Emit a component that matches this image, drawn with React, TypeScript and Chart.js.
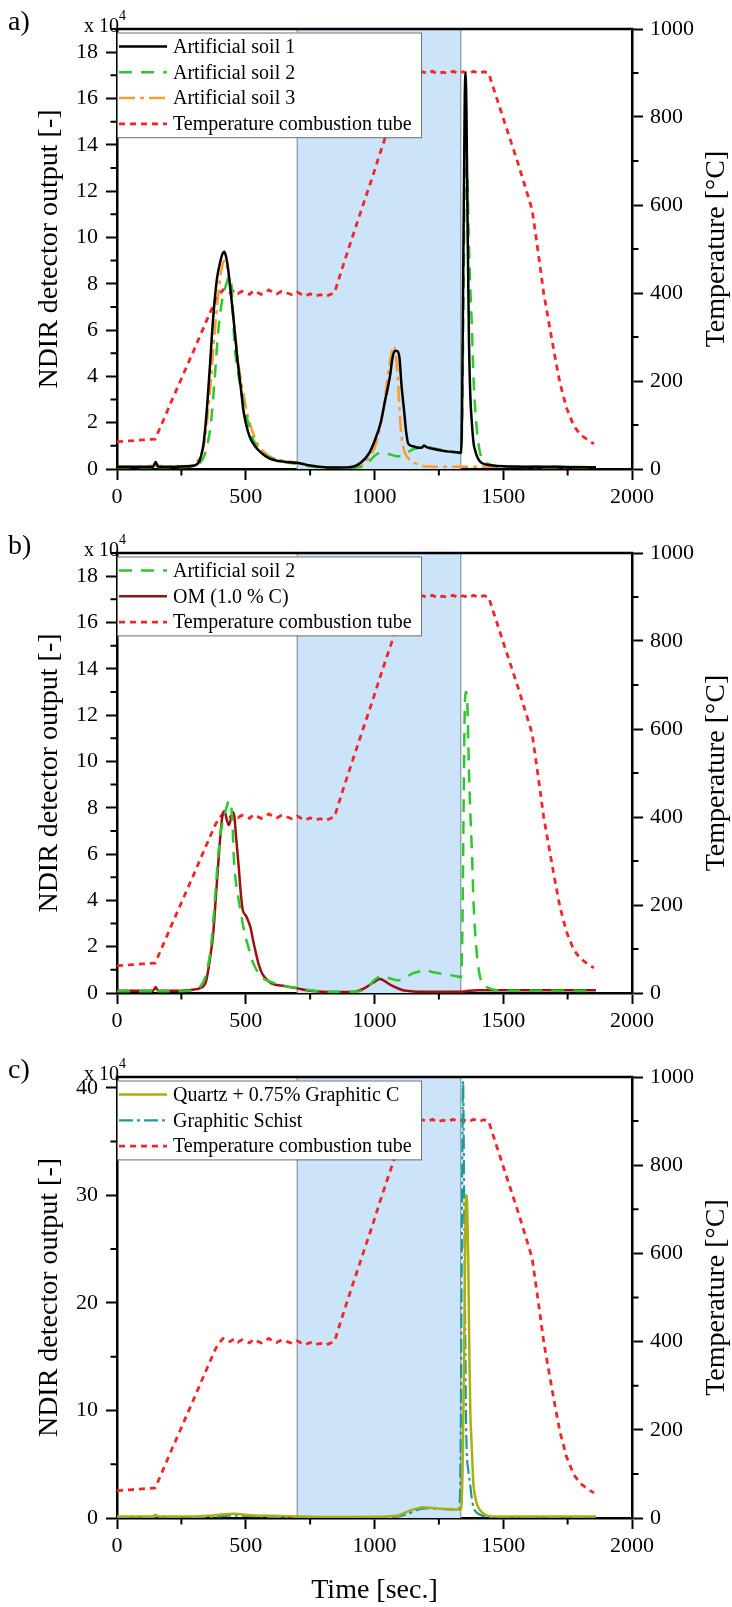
import React, { useEffect, useRef } from 'react';
import { Chart, registerables } from 'chart.js';

Chart.register(...registerables);

const FONT = "'Liberation Serif', 'Times New Roman', Times, serif";

// ---------------- data ----------------
const timeTicks = [0, 500, 1000, 1500, 2000];
const detectorTicksAB = [0, 2, 4, 6, 8, 10, 12, 14, 16, 18];
const detectorTicksC = [0, 10, 20, 30, 40];
const temperatureTicks = [0, 200, 400, 600, 800, 1000];
const combustionWindow = [700, 1335];

const temperatureTime = [0, 50, 100, 148, 175, 210, 250, 300, 350, 383, 398, 412, 425, 440, 455, 470, 485, 500, 515, 530, 545, 560, 575, 590, 605, 620, 640, 660, 680, 700, 715, 730, 750, 770, 790, 810, 830, 845, 870, 900, 930, 960, 990, 1020, 1050, 1080, 1105, 1125, 1145, 1165, 1185, 1205, 1225, 1245, 1265, 1285, 1305, 1325, 1345, 1365, 1385, 1405, 1425, 1443, 1500, 1560, 1612, 1635, 1657, 1684, 1700, 1720, 1745, 1774, 1800, 1838, 1852];
const temperatureValue = [62, 64, 66, 68, 104, 152, 205, 272, 340, 384, 398, 407, 402, 400, 406, 399, 404, 400, 397, 405, 401, 397, 402, 407, 401, 398, 404, 400, 396, 402, 397, 393, 398, 393, 396, 392, 397, 401, 448, 502, 555, 608, 660, 715, 768, 820, 862, 898, 903, 898, 903, 899, 904, 898, 902, 899, 904, 899, 903, 898, 904, 899, 903, 900, 797, 690, 590, 495, 400, 310, 258, 196, 140, 98, 78, 62, 57];

const soil1Time = [0, 100, 140, 150, 160, 220, 280, 300, 320, 335, 347, 360, 374, 388, 400, 410, 416, 423, 432, 442, 455, 468, 482, 490, 500, 515, 537, 560, 591, 620, 660, 708, 750, 817, 870, 925, 950, 979, 1000, 1024, 1042, 1060, 1070, 1079, 1088, 1097, 1105, 1115, 1123, 1131, 1150, 1170, 1185, 1192, 1200, 1230, 1260, 1290, 1320, 1336, 1340, 1345, 1350, 1353, 1357, 1362, 1367, 1372, 1378, 1385, 1392, 1400, 1412, 1430, 1460, 1500, 1600, 1700, 1800, 1860];
const soil1Signal = [0.1, 0.1, 0.1, 0.3, 0.1, 0.1, 0.12, 0.15, 0.35, 1.0, 2.3, 4.3, 6.6, 8.2, 8.9, 9.3, 9.38, 9.2, 8.6, 7.6, 6.2, 4.7, 3.4, 2.6, 2.0, 1.4, 0.97, 0.7, 0.46, 0.36, 0.3, 0.25, 0.15, 0.07, 0.06, 0.13, 0.3, 0.68, 1.2, 2.0, 3.0, 4.0, 4.8, 5.1, 5.1, 4.8, 3.6, 2.5, 1.6, 1.1, 0.98, 0.92, 0.93, 1.02, 0.96, 0.86, 0.8, 0.75, 0.72, 0.7, 2.5, 9, 15.5, 17.1, 15.5, 10, 5.5, 3.2, 2.0, 1.1, 0.75, 0.5, 0.3, 0.2, 0.15, 0.12, 0.1, 0.1, 0.08, 0.08];

const soil2Time = [0, 100, 140, 150, 160, 220, 300, 325, 340, 352, 365, 380, 392, 404, 415, 425, 435, 442, 448, 455, 470, 482, 495, 510, 525, 537, 560, 600, 650, 700, 750, 800, 850, 900, 940, 970, 990, 1010, 1030, 1060, 1090, 1115, 1140, 1170, 1195, 1220, 1250, 1290, 1320, 1336, 1341, 1346, 1351, 1356, 1361, 1366, 1372, 1378, 1385, 1395, 1405, 1415, 1440, 1470, 1550, 1700, 1860];
const soil2Signal = [0.08, 0.08, 0.08, 0.25, 0.08, 0.08, 0.12, 0.3, 0.6, 1.1, 2.0, 4.0, 5.8, 7.0, 7.6, 8.0, 8.3, 8.2, 7.4, 5.6, 4.2, 3.4, 2.6, 2.0, 1.4, 1.1, 0.7, 0.47, 0.3, 0.22, 0.12, 0.06, 0.05, 0.05, 0.07, 0.2, 0.45, 0.65, 0.72, 0.63, 0.55, 0.58, 0.8, 0.92, 1.0, 0.92, 0.85, 0.78, 0.72, 0.68, 2.5, 8, 12.5, 13.0, 12.3, 10, 7.8, 6.2, 3.8, 2.0, 1.0, 0.5, 0.23, 0.13, 0.1, 0.1, 0.08];

const soil3Time = [0, 100, 150, 200, 250, 300, 320, 340, 360, 380, 400, 412, 420, 428, 438, 448, 460, 470, 480, 490, 500, 515, 530, 550, 570, 600, 650, 700, 750, 800, 900, 950, 980, 1000, 1020, 1040, 1055, 1068, 1075, 1082, 1090, 1098, 1105, 1115, 1125, 1150, 1190, 1250, 1350, 1450, 1550, 1650, 1750, 1850];
const soil3Signal = [0.1, 0.1, 0.15, 0.1, 0.12, 0.2, 0.5, 1.2, 3.2, 6.0, 8.2, 8.9, 9.0, 8.7, 8.0, 7.0, 5.7, 4.7, 3.9, 3.3, 2.7, 2.0, 1.5, 1.0, 0.75, 0.5, 0.35, 0.28, 0.15, 0.08, 0.07, 0.15, 0.5, 0.9, 1.7, 3.0, 4.3, 5.1, 5.3, 5.0, 4.0, 2.4, 1.4, 0.8, 0.55, 0.3, 0.12, 0.1, 0.1, 0.1, 0.1, 0.08, 0.08, 0.07];

const omTime = [0, 100, 140, 150, 160, 250, 300, 320, 340, 347, 360, 374, 383, 392, 400, 410, 418, 426, 434, 442, 450, 456, 462, 473, 480, 488, 500, 510, 519, 528, 537, 550, 564, 580, 600, 650, 700, 750, 800, 850, 900, 930, 960, 985, 1005, 1020, 1035, 1055, 1080, 1110, 1150, 1200, 1300, 1350, 1400, 1500, 1600, 1700, 1860];
const omSignal = [0.1, 0.1, 0.1, 0.25, 0.1, 0.1, 0.15, 0.2, 0.35, 0.55, 1.4, 2.6, 4.0, 5.4, 6.6, 7.7, 7.85, 7.5, 7.25, 7.5, 7.8, 7.6, 6.8, 5.4, 4.4, 3.6, 3.35, 3.1, 2.8, 2.3, 1.84, 1.25, 0.83, 0.6, 0.42, 0.3, 0.2, 0.1, 0.05, 0.04, 0.04, 0.07, 0.2, 0.38, 0.52, 0.6, 0.55, 0.4, 0.25, 0.12, 0.07, 0.05, 0.05, 0.07, 0.12, 0.12, 0.12, 0.12, 0.12];

const quartzTime = [0, 100, 140, 150, 160, 300, 350, 400, 450, 480, 520, 600, 700, 800, 900, 1000, 1050, 1086, 1110, 1138, 1160, 1190, 1220, 1254, 1290, 1320, 1334, 1338, 1343, 1348, 1352, 1356, 1360, 1364, 1368, 1372, 1377, 1384, 1390, 1397, 1405, 1416, 1430, 1442, 1470, 1600, 1860];
const quartzSignal = [0.15, 0.15, 0.15, 0.3, 0.15, 0.15, 0.2, 0.3, 0.4, 0.35, 0.25, 0.2, 0.15, 0.1, 0.1, 0.12, 0.15, 0.2, 0.4, 0.68, 0.85, 1.0, 0.95, 0.86, 0.84, 0.8, 0.8, 1.2, 6, 15, 25, 30, 29, 24, 16, 10, 7, 3.2, 2.1, 1.36, 0.9, 0.56, 0.3, 0.2, 0.15, 0.15, 0.15];

const schistTime = [0, 300, 400, 450, 500, 600, 700, 800, 1000, 1080, 1120, 1150, 1180, 1200, 1230, 1270, 1300, 1326, 1331, 1335, 1339, 1344, 1348, 1352, 1355, 1358, 1364, 1371, 1378, 1384, 1393, 1403, 1422, 1440, 1460, 1600, 1860];
const schistSignal = [0.05, 0.05, 0.15, 0.25, 0.2, 0.1, 0.08, 0.05, 0.05, 0.1, 0.3, 0.6, 0.85, 0.9, 0.88, 0.82, 0.8, 0.8, 1.5, 8, 25, 40.6, 30, 18, 10, 6.3, 4.5, 3.2, 1.8, 1.0, 0.6, 0.4, 0.2, 0.1, 0.05, 0.05, 0.05];

// ---------------- styling ----------------
const C_BLACK = '#000000';
const C_GREEN = '#2bc92b';
const C_ORANGE = '#ff9a30';
const C_RED = '#f42525';
const C_DARKRED = '#9e0f0f';
const C_OLIVE = '#adad12';
const C_TEAL = '#1a9a9a';
const SHADE = '#cce4fa';
const SHADE_EDGE = '#8796a6';

const PANEL_W = 732;
const PLOT_TOP = 29;
const AXIS_LEFT_W = 117;
const AXIS_RIGHT_W = 100;

function series(label: string, xs: number[], ys: number[], color: string, width: number, dash: number[], axis = 'y', smooth = true) {
  return {
    label,
    data: xs.map((x, i) => ({ x, y: ys[i] })),
    borderColor: color,
    backgroundColor: color,
    borderWidth: width,
    borderDash: dash,
    pointRadius: 0,
    pointHoverRadius: 0,
    fill: false,
    yAxisID: axis,
    xAxisID: 'x',
    tension: 0,
    cubicInterpolationMode: smooth ? 'monotone' : 'default',
  };
}

const tempSeries = () => series('Temperature combustion tube', temperatureTime, temperatureValue, C_RED, 2.8, [6, 5], 'yT', false);

type PanelSpec = {
  label: string;
  top: number;
  height: number;
  plotH: number;
  yMax: number;
  yTicks: number[];
  yMinorStep: number;
  xTitle: boolean;
  datasets: () => any[];
};

const panels: PanelSpec[] = [
  {
    label: 'a)', top: 0, height: 524, plotH: 440, yMax: 19, yTicks: detectorTicksAB, yMinorStep: 1, xTitle: false,
    datasets: () => [
      series('Artificial soil 1', soil1Time, soil1Signal, C_BLACK, 2.5, []),
      series('Artificial soil 2', soil2Time, soil2Signal, C_GREEN, 2.5, [13, 9]),
      series('Artificial soil 3', soil3Time, soil3Signal, C_ORANGE, 2.5, [16, 5, 4, 5]),
      tempSeries(),
    ],
  },
  {
    label: 'b)', top: 524, height: 524, plotH: 440, yMax: 19, yTicks: detectorTicksAB, yMinorStep: 1, xTitle: false,
    datasets: () => [
      series('Artificial soil 2', soil2Time, soil2Signal, C_GREEN, 2.5, [13, 9]),
      series('OM (1.0 % C)', omTime, omSignal, C_DARKRED, 2.5, []),
      tempSeries(),
    ],
  },
  {
    label: 'c)', top: 1048, height: 559, plotH: 441, yMax: 41, yTicks: detectorTicksC, yMinorStep: 5, xTitle: true,
    datasets: () => [
      series('Quartz + 0.75% Graphitic C', quartzTime, quartzSignal, C_OLIVE, 2.5, []),
      series('Graphitic Schist', schistTime, schistSignal, C_TEAL, 2.2, [14, 4, 3, 4]),
      tempSeries(),
    ],
  },
];

function decorPlugin(spec: PanelSpec) {
  return {
    id: 'decor',
    beforeDatasetsDraw(chart: any) {
      const { ctx, chartArea: a, scales } = chart;
      const x0 = scales.x.getPixelForValue(combustionWindow[0]);
      const x1 = scales.x.getPixelForValue(combustionWindow[1]);
      ctx.save();
      ctx.fillStyle = SHADE;
      ctx.fillRect(x0, a.top, x1 - x0, a.bottom - a.top);
      ctx.strokeStyle = SHADE_EDGE;
      ctx.lineWidth = 1.2;
      ctx.beginPath();
      ctx.moveTo(x0, a.top);
      ctx.lineTo(x0, a.bottom);
      ctx.moveTo(x1, a.top);
      ctx.lineTo(x1, a.bottom);
      ctx.stroke();
      ctx.restore();
    },
    afterDatasetsDraw(chart: any) {
      const { ctx, chartArea: a } = chart;
      const ds = chart.data.datasets;
      const left = a.left;
      const top = a.top + 3.5;
      const w = 304;
      const rowH = 25.8;
      const h = ds.length * rowH + 1.5;
      ctx.save();
      ctx.fillStyle = '#ffffff';
      ctx.fillRect(left + 1, top, w - 1, h);
      ctx.strokeStyle = '#6f6f6f';
      ctx.lineWidth = 1;
      ctx.strokeRect(left + 0.5, top + 0.5, w, h);
      ds.forEach((d: any, i: number) => {
        const cy = top + 14 + i * rowH;
        ctx.save();
        ctx.strokeStyle = d.borderColor;
        ctx.lineWidth = d.borderWidth;
        ctx.setLineDash(d.borderDash || []);
        ctx.beginPath();
        ctx.moveTo(left + 2, cy);
        ctx.lineTo(left + 50, cy);
        ctx.stroke();
        ctx.restore();
        ctx.fillStyle = '#000';
        ctx.font = `20px ${FONT}`;
        ctx.textAlign = 'left';
        ctx.textBaseline = 'middle';
        ctx.fillText(d.label, left + 56, cy + 1);
      });
      ctx.restore();
    },
    afterDraw(chart: any) {
      const { ctx, chartArea: a, scales } = chart;
      ctx.save();
      ctx.strokeStyle = '#000';
      ctx.lineWidth = 2.5;
      ctx.beginPath();
      ctx.moveTo(a.left - 1.25, a.top);
      ctx.lineTo(a.right + 1.25, a.top);
      ctx.stroke();

      // minor ticks
      ctx.lineWidth = 2;
      ctx.beginPath();
      for (let v = 250; v < 2000; v += 500) {
        const px = scales.x.getPixelForValue(v);
        ctx.moveTo(px, a.bottom);
        ctx.lineTo(px, a.bottom + 6.5);
      }
      for (let v = spec.yMinorStep; v <= spec.yMax; v += spec.yMinorStep * 2) {
        const py = scales.y.getPixelForValue(v);
        ctx.moveTo(a.left, py);
        ctx.lineTo(a.left - 6.5, py);
      }
      for (let v = 100; v < 1000; v += 200) {
        const py = scales.yT.getPixelForValue(v);
        ctx.moveTo(a.right, py);
        ctx.lineTo(a.right + 6.5, py);
      }
      ctx.stroke();

      // texts
      ctx.fillStyle = '#000';
      ctx.textBaseline = 'alphabetic';
      ctx.textAlign = 'left';
      ctx.font = `28px ${FONT}`;
      ctx.fillText(spec.label, 8, 30);

      ctx.font = `20px ${FONT}`;
      ctx.textAlign = 'right';
      ctx.fillText('x 10', a.left + 2, 32);
      ctx.font = `14px ${FONT}`;
      ctx.textAlign = 'left';
      ctx.fillText('4', a.left + 2, 20);

      ctx.font = `28px ${FONT}`;
      ctx.textAlign = 'center';
      const cy = (a.top + a.bottom) / 2;
      ctx.save();
      ctx.translate(56.5, cy);
      ctx.rotate(-Math.PI / 2);
      ctx.fillText('NDIR detector output [-]', 0, 0);
      ctx.restore();
      ctx.save();
      ctx.translate(723.5, cy);
      ctx.rotate(-Math.PI / 2);
      ctx.fillText('Temperature [°C]', 0, 0);
      ctx.restore();

      if (spec.xTitle) {
        ctx.fillText('Time [sec.]', (a.left + a.right) / 2, a.bottom + 80);
      }
      ctx.restore();
    },
  };
}

function axisCommon() {
  return {
    grid: { drawOnChartArea: false, drawTicks: true, tickLength: 11, tickWidth: 2, tickColor: '#000' },
    border: { display: true, color: '#000', width: 2.5 },
  };
}

function Panel({ spec }: { spec: PanelSpec }) {
  const ref = useRef<HTMLCanvasElement>(null);
  useEffect(() => {
    const canvas = ref.current!;
    const xH = spec.height - PLOT_TOP - spec.plotH;
    const chart = new Chart(canvas, {
      type: 'line',
      data: { datasets: spec.datasets() as any },
      options: {
        responsive: false,
        animation: false,
        devicePixelRatio: 1,
        events: [],
        parsing: true,
        layout: { padding: { top: PLOT_TOP, left: 0, right: 0, bottom: 0 } },
        plugins: { legend: { display: false }, tooltip: { enabled: false }, title: { display: false } },
        scales: {
          x: {
            type: 'linear',
            position: 'bottom',
            min: 0,
            max: 2000,
            afterBuildTicks: (s: any) => { s.ticks = timeTicks.map((v) => ({ value: v })); },
            afterFit: (s: any) => { s.height = xH; },
            ...axisCommon(),
            ticks: { color: '#000', font: { family: FONT, size: 22 }, padding: 4, maxRotation: 0, autoSkip: false, callback: (v: any) => String(v) },
          },
          y: {
            type: 'linear',
            position: 'left',
            min: 0,
            max: spec.yMax,
            afterBuildTicks: (s: any) => { s.ticks = spec.yTicks.map((v) => ({ value: v })); },
            afterFit: (s: any) => { s.width = AXIS_LEFT_W; },
            ...axisCommon(),
            ticks: { color: '#000', font: { family: FONT, size: 22 }, padding: 8, autoSkip: false, callback: (v: any) => String(v) },
          },
          yT: {
            type: 'linear',
            position: 'right',
            min: 0,
            max: 1000,
            afterBuildTicks: (s: any) => { s.ticks = temperatureTicks.map((v) => ({ value: v })); },
            afterFit: (s: any) => { s.width = AXIS_RIGHT_W; },
            ...axisCommon(),
            ticks: { color: '#000', font: { family: FONT, size: 22 }, padding: 7, autoSkip: false, callback: (v: any) => String(v) },
          },
        },
      } as any,
      plugins: [decorPlugin(spec)],
    });
    return () => chart.destroy();
  }, [spec]);
  return (
    <canvas
      ref={ref}
      width={PANEL_W}
      height={spec.height}
      style={{ position: 'absolute', left: 0, top: spec.top, width: PANEL_W, height: spec.height }}
    />
  );
}

export default function App() {
  return (
    <div style={{ position: 'absolute', left: 0, top: 0, width: PANEL_W, height: 1607, background: '#fff', overflow: 'hidden' }}>
      {panels.map((p) => (
        <Panel key={p.label} spec={p} />
      ))}
    </div>
  );
}
